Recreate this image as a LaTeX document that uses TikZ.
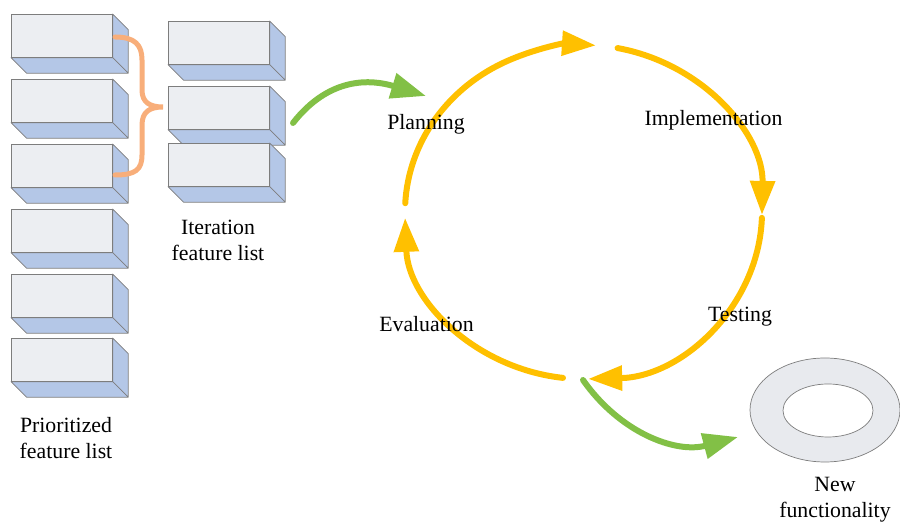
\documentclass[tikz,border=0pt]{standalone}
\usepackage{fontspec}
\setmainfont{Liberation Serif}
\usepackage{tikz}
\usetikzlibrary{arrows.meta}
\usetikzlibrary{shapes.geometric}
\definecolor{boxfront}{RGB}{236,238,242}
\definecolor{boxside}{RGB}{180,199,231}
\definecolor{boxedge}{RGB}{125,125,125}
\definecolor{bracecol}{RGB}{248,174,122}
\definecolor{cycyellow}{RGB}{255,192,0}
\definecolor{arrowgreen}{RGB}{130,192,70}
\definecolor{ringfill}{RGB}{232,234,238}
\tikzset{>=latex}
\tikzset{featbox/.style = {shape=rectangle,draw=boxedge,fill=boxfront,minimum width=2.02cm,minimum height=0.86cm,inner sep=0pt,anchor=north west,
    append after command={\pgfextra{\let\boxname\tikzlastnode
      \filldraw[draw=boxedge,fill=boxside,line join=round]
        (\boxname.north east) -- ++(0.31,-0.31) -- ([shift={(0.31,-0.31)}]\boxname.south east)
        -- ([shift={(0.31,-0.31)}]\boxname.south west) -- (\boxname.south west) -- (\boxname.south east) -- cycle
        (\boxname.south east) -- ++(0.31,-0.31);}}}}
\tikzset{caption/.style = {font=\fontsize{12.4}{14.7}\selectfont,align=center,inner sep=0pt}}
\tikzset{stagelabel/.style = {font=\fontsize{12.4}{14.7}\selectfont,inner sep=0pt,anchor=base}}
\tikzset{cycarrow/.style = {draw=cycyellow,line width=0.12cm,line cap=round,-{Triangle[length=0.68cm,width=0.48cm]}}}
\tikzset{flowarrow/.style = {draw=arrowgreen,line width=0.12cm,line cap=round,-{Triangle[length=0.7cm,width=0.5cm]}}}
\tikzset{orangebrace/.style = {draw=bracecol,line width=0.1cm,line cap=round}}
\begin{document}
\begin{tikzpicture}
                \useasboundingbox (0,0) rectangle (18,-10.46);

                % prioritized feature list
                \node[featbox] (P1) at (0.22,-0.28) {};
                \node[featbox] (P2) at (0.22,-1.58) {};
                \node[featbox] (P3) at (0.22,-2.88) {};
                \node[featbox] (P4) at (0.22,-4.18) {};
                \node[featbox] (P5) at (0.22,-5.48) {};
                \node[featbox] (P6) at (0.22,-6.76) {};
                \node[caption] (pfl) at (1.32,-8.76) {Prioritized\\feature list};

                % iteration feature list
                \node[featbox] (I1) at (3.36,-0.42) {};
                \node[featbox] (I2) at (3.36,-1.72) {};
                \node[featbox] (I3) at (3.36,-2.86) {};
                \node[caption] (itl) at (4.36,-4.80) {Iteration\\feature list};

                \draw[orangebrace] (2.30,-0.74) .. controls (2.70,-0.74) and (2.84,-0.90) .. (2.84,-1.20)
                    -- (2.84,-1.80) .. controls (2.84,-2.05) and (3.00,-2.14) .. (3.26,-2.14)
                    .. controls (3.00,-2.14) and (2.84,-2.23) .. (2.84,-2.50)
                    -- (2.84,-3.10) .. controls (2.84,-3.40) and (2.70,-3.50) .. (2.30,-3.50);

                % iteration cycle
                \coordinate (cyc) at (11.67,-4.24);
                \draw[cycarrow] ([shift={(177:3.57 and 3.34)}]cyc) arc[start angle=177,end angle=86,x radius=3.57,y radius=3.34];
                \draw[cycarrow] ([shift={(79:3.57 and 3.34)}]cyc) arc[start angle=79,end angle=-1,x radius=3.57,y radius=3.34];
                \draw[cycarrow] ([shift={(-2:3.57 and 3.34)}]cyc) arc[start angle=-2,end angle=-88.5,x radius=3.57,y radius=3.34];
                \draw[cycarrow] ([shift={(-96.6:3.57 and 3.34)}]cyc) arc[start angle=-96.6,end angle=-178,x radius=3.57,y radius=3.34];

                \node[stagelabel] (plan) at (8.52,-2.60) {Planning};
                \node[stagelabel] (impl) at (14.27,-2.52) {Implementation};
                \node[stagelabel] (test) at (14.80,-6.44) {Testing};
                \node[stagelabel] (eval) at (8.53,-6.64) {Evaluation};

                % new functionality
                \node[ellipse,draw=boxedge,fill=ringfill,minimum width=3.0cm,minimum height=2.08cm] (ring) at (16.50,-8.20) {};
                \node[ellipse,draw=boxedge,fill=white,minimum width=1.8cm,minimum height=1.06cm] (hole) at (16.56,-8.21) {};
                \node[caption] (nf) at (16.70,-9.99) {New\\functionality};

                % green arrows
                \coordinate (itout) at (5.86,-2.46);
                \coordinate (planin) at (8.52,-1.92);
                \coordinate (cycout) at (11.66,-7.60);
                \coordinate (ringin) at (14.76,-8.74);
                \draw[flowarrow] (itout) to[out=52,in=163,looseness=1.1] (planin);
                \draw[flowarrow] (cycout) to[out=-55,in=195] (ringin);
\end{tikzpicture}
\end{document}
